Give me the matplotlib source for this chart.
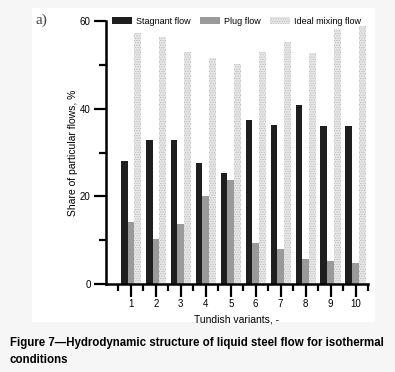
import matplotlib.pyplot as plt
import matplotlib.patches as mpatches
import numpy as np

variants = [1, 2, 3, 4, 5, 6, 7, 8, 9, 10]
stagnant = [28.0, 32.9, 32.9, 27.7, 25.4, 37.5, 36.3, 40.8, 36.1, 36.0]
plug = [14.2, 10.2, 13.6, 20.0, 23.8, 9.3, 8.0, 5.8, 5.2, 4.8]
ideal = [57.2, 56.4, 53.0, 51.6, 50.3, 52.9, 55.2, 52.7, 58.1, 58.8]

plt.rcParams['font.family'] = ['Liberation Sans', 'DejaVu Sans']
plt.rcParams['hatch.linewidth'] = 0.4

fig = plt.figure(figsize=(3.95, 3.72), dpi=100, facecolor='#f6f6f6')

# white panel behind the chart
fig.patches.append(mpatches.Rectangle((32 / 395, 1 - 322 / 372), 343 / 395, 314 / 372,
                                      transform=fig.transFigure, facecolor='white',
                                      edgecolor='none', zorder=-10))

ax = fig.add_axes([106 / 395, 1 - 284 / 372, 262 / 395, 263 / 372])
ax.set_facecolor('white')

x = np.array(variants)
w = 0.27
ax.bar(x - w, stagnant, w, color='#1e1e1e', label='Stagnant flow')
ax.bar(x, plug, w, color='#9a9a9a', label='Plug flow')
ax.bar(x + w, ideal, w, color='#e6e6e6', edgecolor='#b5b5b5', hatch='.......',
       linewidth=0, label='Ideal mixing flow')

ax.set_xlim(0, 10.5)
ax.set_ylim(0, 60)
ax.set_xticks(variants)
ax.set_xticks(np.arange(0.5, 10.6, 1), minor=True)
ax.set_yticks([0, 20, 40, 60])
ax.set_yticks([10, 30, 50], minor=True)
ax.tick_params(which='major', direction='out', length=9, width=1.6, labelsize=7, pad=2)
ax.tick_params(which='minor', direction='out', length=5, width=1.6)

for s in ['top', 'right']:
    ax.spines[s].set_visible(False)
for s in ['left', 'bottom']:
    ax.spines[s].set_linewidth(1.8)

ax.set_ylabel('Share of particular flows, %', fontsize=7.5, labelpad=1)
ax.set_xlabel('Tundish variants, -', fontsize=7.5, labelpad=4)

ax.legend(loc='center left', bbox_to_anchor=(0.022, 1.0), ncol=3, frameon=False,
          fontsize=6.5, handlelength=2.2, handleheight=0.9, columnspacing=1.0,
          handletextpad=0.5, borderaxespad=0, borderpad=0)

fig.text(36 / 395, 1 - 20 / 372, 'a)', family='Liberation Serif', fontsize=11,
         color='#444444', va='center')

fig.text(10 / 395, 1 - 343 / 372,
         'Figure 7\u2014Hydrodynamic structure of liquid steel flow for isothermal',
         fontsize=8.3, fontweight='bold', va='center')
fig.text(10 / 395, 1 - 360 / 372, 'conditions', fontsize=8.3, fontweight='bold', va='center')

fig.savefig('out.png', dpi=100, facecolor=fig.get_facecolor())
